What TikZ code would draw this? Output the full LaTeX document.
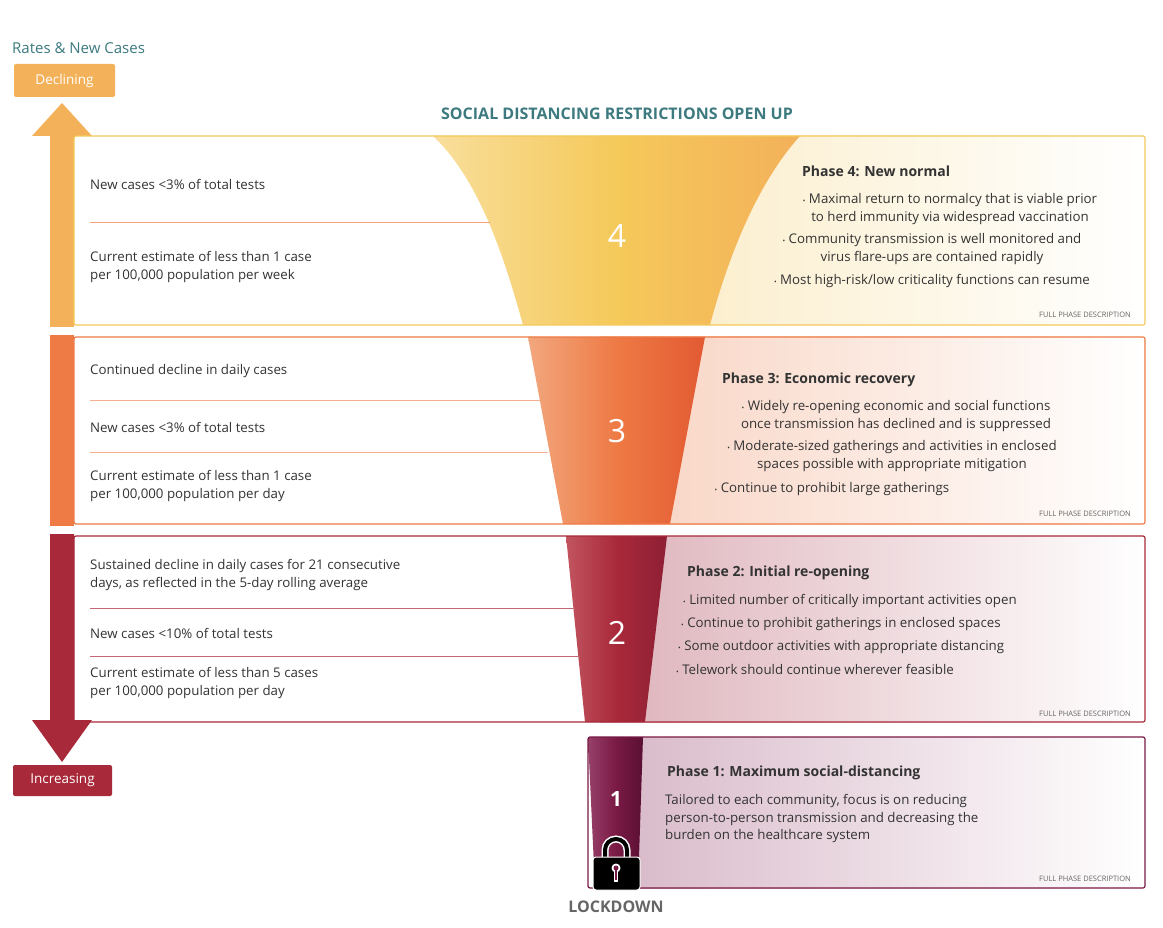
\documentclass[tikz,border=0pt]{standalone}
\usepackage{fontspec}
\setmainfont{Open Sans}
\newcommand{\bl}{{\scriptsize\textbullet}\ }
\begin{document}
\begin{tikzpicture}[x=1pt,y=-1pt,
 txt/.style={font=\fontsize{13.3}{18}\selectfont,text=black!80,inner sep=0,anchor=west,align=left},
 ptitle/.style={font=\fontsize{14}{18}\selectfont\bfseries,text=black!80,inner sep=0,anchor=west},
 bul/.style={font=\fontsize{13.3}{17.5}\selectfont,text=black!80,inner sep=0,align=center},
 full/.style={font=\fontsize{7.5}{9}\selectfont,text=black!60,inner sep=0,anchor=east},
 num/.style={font=\fontsize{32}{36}\selectfont,text=white,inner sep=0},
 sep/.style={line width=0.6pt}]
\definecolor{y4}{HTML}{F5C95A}\definecolor{o4}{HTML}{F3B15A}
\definecolor{c4}{HTML}{FBEBC3}
\definecolor{o3}{HTML}{EE7A45}\definecolor{d3}{HTML}{E25A32}\definecolor{l3}{HTML}{F2A77E}
\definecolor{c3}{HTML}{F8D2C0}
\definecolor{r2}{HTML}{A8293A}\definecolor{d2}{HTML}{8E1F35}\definecolor{l2}{HTML}{C25560}
\definecolor{c2}{HTML}{DDB2BA}
\definecolor{p1}{HTML}{7A1A45}\definecolor{d1}{HTML}{5A0F33}\definecolor{l1}{HTML}{96406A}
\definecolor{c1}{HTML}{D7B7C7}
\definecolor{teal}{HTML}{3C7A80}
\useasboundingbox (0,0) rectangle (1163,928);
\fill[white] (0,0) rectangle (1163,928);
% headers
\node[font=\fontsize{15}{18}\selectfont,text=teal,anchor=west,inner sep=0] (rates) at (12,48) {Rates \& New Cases};
\node[fill=o4,rounded corners=2pt,minimum width=101pt,minimum height=33pt,text=white,font=\fontsize{13.5}{16}\selectfont,inner sep=0] (decl) at (64.5,80.5) {Declining};
\node[fill=r2,rounded corners=2pt,minimum width=99pt,minimum height=31pt,text=white,font=\fontsize{13.5}{16}\selectfont,inner sep=0] (incr) at (62.5,780.5) {Increasing};
\node[font=\fontsize{16}{19}\selectfont\bfseries,text=teal,inner sep=0] (title) at (617,114) {SOCIAL DISTANCING RESTRICTIONS OPEN UP};
\node[font=\fontsize{16}{19}\selectfont\bfseries,text=black!60,inner sep=0] (lock) at (616,907) {LOCKDOWN};
% arrows/strips
\fill[o4] (32,136) -- (62,103) -- (92,136) -- (74,136) -- (74,327) -- (50,327) -- (50,136) -- cycle;
\fill[o3] (50,335) rectangle (74,526);
\fill[r2] (50,534) -- (74,534) -- (74,720) -- (92,720) -- (62,762) -- (32,720) -- (50,720) -- cycle;
% backgrounds right
\shade[left color=c4,right color=white] (600,136) rectangle (1145,325);
\shade[left color=c3,right color=white] (600,337) rectangle (1145,524);
\shade[left color=c2,right color=white] (600,536) rectangle (1145,722);
\shade[left color=c1,right color=white] (600,737) rectangle (1145,888);
% funnels
\shade[left color=y4!60,right color=o4,middle color=y4] (433,136) .. controls (480,180) and (505,260) .. (523,325) -- (710,325) .. controls (730,250) and (760,180) .. (800,136) -- cycle;
\shade[left color=l3,right color=d3,middle color=o3] (528,337) -- (705,337) -- (670,524) -- (563,524) -- cycle;
\shade[left color=l2,right color=d2,middle color=r2] (566,536) -- (667,536) -- (645,722) -- (585,722) -- cycle;
\shade[left color=l1,right color=d1,middle color=p1] (588,737) -- (643,737) -- (638,888) -- (595,888) -- cycle;
% boxes
\draw[y4,line width=1.2pt,rounded corners=2pt] (74,136) rectangle (1145,325);
\draw[o3,line width=1.2pt,rounded corners=2pt] (74,337) rectangle (1145,524);
\draw[r2,line width=1.2pt,rounded corners=2pt] (74,536) rectangle (1145,722);
\draw[p1,line width=1.2pt,rounded corners=2pt] (588,737) rectangle (1145,888);
% separators
\draw[sep,o3!70] (90,222) -- (490,222);
\draw[sep,o3!60] (90,400) -- (540,400);
\draw[sep,o3!60] (90,452) -- (548,452);
\draw[sep,r2!70] (90,608) -- (575,608);
\draw[sep,r2!70] (90,656) -- (580,656);
% left texts
\node[txt] (t41) at (90,184) {New cases <3\% of total tests};
\node[txt] (t42) at (90,267) {Current estimate of less than 1 case\\per 100,000 population per week};
\node[txt] (t31) at (90,371) {Continued decline in daily cases};
\node[txt] (t32) at (90,427) {New cases <3\% of total tests};
\node[txt] (t33) at (90,486) {Current estimate of less than 1 case\\per 100,000 population per day};
\node[txt] (t21) at (90,575) {Sustained decline in daily cases for 21 consecutive\\days, as reflected in the 5-day rolling average};
\node[txt] (t22) at (90,633) {New cases <10\% of total tests};
\node[txt] (t23) at (90,683) {Current estimate of less than 5 cases\\per 100,000 population per day};
% numbers
\node[num] (n4) at (617,236) {4};
\node[num] (n3) at (617,431) {3};
\node[num] (n2) at (617,633) {2};
\node[num,font=\fontsize{21}{24}\selectfont\bfseries] (n1) at (616,799) {1};
% lock
\draw[white,line width=7pt] (605,858) -- (605,850) arc (180:360:11) -- (627,858);
\draw[black,line width=4pt] (605,858) -- (605,850) arc (180:360:11) -- (627,858);
\filldraw[fill=black,draw=white,line width=1pt,rounded corners=3pt] (593,857) rectangle (640,890);
\fill[white] (616,868) circle (4.5);
\fill[white] (614,870) rectangle (618,882);
\fill[p1] (616,868) circle (2.5);
\fill[p1] (615,870) rectangle (617,880);
% phase 4
\node[ptitle] (p4) at (802,171) {Phase 4: New normal};
\node[bul] (b41) at (950,209) {\bl Maximal return to normalcy that is viable prior\\ to herd immunity via widespread vaccination};
\node[bul] (b42) at (932,249) {\bl Community transmission is well monitored and\\virus flare-ups are contained rapidly};
\node[bul] (b43) at (932,281) {\bl Most high-risk/low criticality functions can resume};
\node[full] (f4) at (1131,315) {FULL PHASE DESCRIPTION};
% phase 3
\node[ptitle] (p3) at (722,380) {Phase 3: Economic recovery};
\node[bul] (b31) at (896,416) {\bl Widely re-opening economic and social functions\\ once transmission has declined and is suppressed};
\node[bul] (b32) at (892,456) {\bl Moderate-sized gatherings and activities in enclosed\\spaces possible with appropriate mitigation};
\node[bul] (b33) at (832,489) {\bl Continue to prohibit large gatherings};
\node[full] (f3) at (1131,514) {FULL PHASE DESCRIPTION};
% phase 2
\node[ptitle] (p2) at (687,573) {Phase 2: Initial re-opening};
\node[bul,anchor=west] (b21) at (683,601) {\bl Limited number of critically important activities open};
\node[bul,anchor=west] (b22) at (681,624) {\bl Continue to prohibit gatherings in enclosed spaces};
\node[bul,anchor=west] (b23) at (678,647) {\bl Some outdoor activities with appropriate distancing};
\node[bul,anchor=west] (b24) at (676,669) {\bl Telework should continue wherever feasible};
\node[full] (f2) at (1131,714) {FULL PHASE DESCRIPTION};
% phase 1
\node[ptitle] (p1t) at (667,773) {Phase 1: Maximum social-distancing};
\node[txt,font=\fontsize{13.3}{17.5}\selectfont] (b11) at (665,819) {Tailored to each community, focus is on reducing\\person-to-person transmission and decreasing the\\burden on the healthcare system};
\node[full] (f1) at (1131,879) {FULL PHASE DESCRIPTION};
\end{tikzpicture}
\end{document}
